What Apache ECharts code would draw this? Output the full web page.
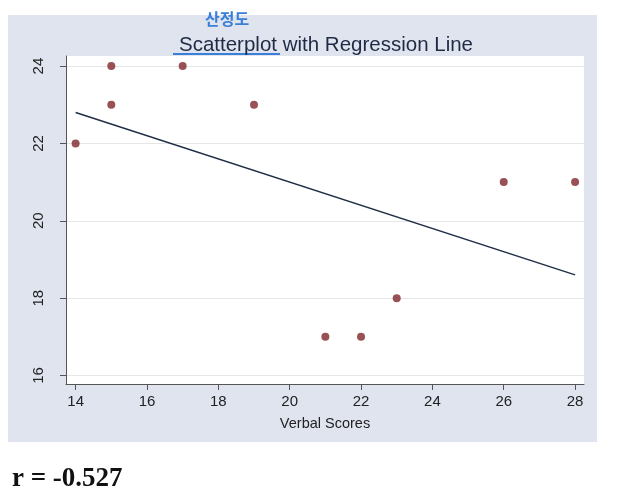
<!DOCTYPE html>
<html>
<head>
<meta charset="utf-8">
<script src="https://cdn.jsdelivr.net/npm/echarts@6/dist/echarts.min.js"></script>
<style>
  html, body { margin: 0; padding: 0; background: #fff; }
  #chart { width: 620px; height: 497px; }
</style>
</head>
<body>
<div id="chart"></div>
<script>
// verbal scores (x) and the other score (y)
const verbal = [14, 15, 15, 17, 19, 21, 22, 23, 26, 28];
const scores = [22, 24, 23, 24, 23, 17, 17, 18, 21, 21];
// fitted line end points
const lineX = [14, 28];
const lineY = [22.8, 18.6];
const xTicks = [14, 16, 18, 20, 22, 24, 26, 28];
const yTicks = [16, 18, 20, 22, 24];

const chart = echarts.init(document.getElementById("chart"));

const font = "Liberation Sans, Arial, sans-serif";

chart.setOption({
  backgroundColor: "#fff",
  animation: false,
  title: {
    text: "Scatterplot with Regression Line",
    left: 321,
    textAlign: "center",
    top: 30,
    textStyle: { fontFamily: font, fontSize: 20.5, fontWeight: "normal", color: "#1f2a44" },
  },
  grid: {
    left: 66, top: 56, right: 36, bottom: 113,
    show: true, backgroundColor: "#fff", borderWidth: 0,
  },
  graphic: [
    {
      type: "rect", z: -10, silent: true,
      shape: { x: 8, y: 15, width: 589, height: 427 },
      style: { fill: "#dfe4ef" },
    },
    {
      type: "text", left: 205, top: 11,
      style: {
        text: "산정도", fill: "#3a7fd8",
        font: "bold 16px 'Noto Sans CJK KR'",
      },
    },
    {
      type: "line",
      shape: { x1: 173, y1: 54, x2: 280, y2: 54 },
      style: { stroke: "#3a7fd8", lineWidth: 2 },
    },
    {
      type: "text", left: 12, top: 466,
      style: {
        text: "r = -0.527", fill: "#111",
        font: "bold 27px 'Liberation Serif', 'Times New Roman', serif",
      },
    },
  ],
  xAxis: {
    type: "value",
    min: 13.73, max: 28.25,
    name: "Verbal Scores",
    nameLocation: "middle",
    nameGap: 32,
    nameTextStyle: { fontFamily: font, fontSize: 14.5, color: "#222" },
    axisLine: { show: true, onZero: false, lineStyle: { color: "#555", width: 1 } },
    axisTick: { show: true, length: 6, lineStyle: { color: "#555" }, customValues: xTicks },
    axisLabel: {
      fontFamily: font, fontSize: 15, color: "#222", margin: 10,
      customValues: xTicks,
    },
    splitLine: { show: false },
  },
  yAxis: {
    type: "value",
    min: 15.78, max: 24.26,
    axisLine: { show: true, onZero: false, lineStyle: { color: "#555", width: 1 } },
    axisTick: { show: true, length: 6, lineStyle: { color: "#555" }, customValues: yTicks },
    axisLabel: {
      fontFamily: font, fontSize: 15, color: "#222", margin: 20,
      rotate: 90, customValues: yTicks,
    },
    splitLine: { show: true, lineStyle: { color: "#e4e6ea", width: 1 } },
  },
  series: [
    {
      type: "line",
      data: lineX.map((x, i) => [x, lineY[i]]),
      symbol: "none",
      lineStyle: { color: "#1f2d45", width: 1.4 },
      z: 2,
    },
    {
      type: "scatter",
      data: verbal.map((x, i) => [x, scores[i]]),
      symbolSize: 8,
      itemStyle: { color: "#7e2629" },
      z: 3,
    },
  ],
});
</script>
</body>
</html>
